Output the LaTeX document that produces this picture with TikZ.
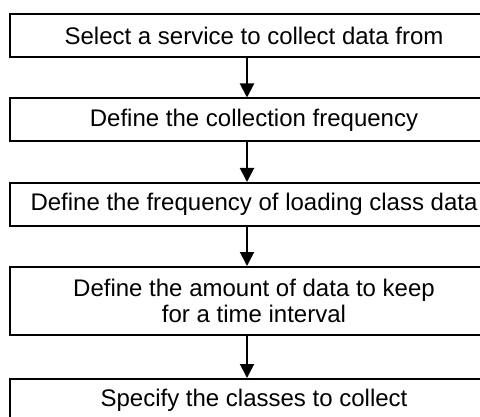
\documentclass[tikz,border=0pt]{standalone}
\usepackage{fontspec}
\setmainfont{Liberation Sans}
\usetikzlibrary{arrows.meta}
\tikzset{
    stepbox/.style={draw, line width=1pt, minimum width=244pt, minimum height=21.5pt,
        inner sep=0pt, align=center, font=\fontsize{12}{13}\selectfont},
    flow/.style={line width=1pt, -{Triangle[width=7pt,length=7pt]}}
}
\begin{document}
\begin{tikzpicture}[x=0.5pt, y=-0.5pt]
    \useasboundingbox (0,0) rectangle (480,416);
    \clip (0,0) rectangle (480,416);
    \node[stepbox] (select) at (254,35.5) {Select a service to collect data from};
    \node[stepbox] (freq) at (254,120) {Define the collection frequency};
    \node[stepbox] (load) at (254,204.5) {Define the frequency of loading class data};
    \node[stepbox, minimum height=34pt] (amount) at (254,301) {Define the amount of data to keep\\for a time interval};
    \node[stepbox] (classes) at (254,400.5) {Specify the classes to collect};
    \draw[flow] ([xshift=-3.5pt]select.south) -- ([xshift=-3.5pt]freq.north);
    \draw[flow] ([xshift=-3.5pt]freq.south) -- ([xshift=-3.5pt]load.north);
    \draw[flow] ([xshift=-3.5pt]load.south) -- ([xshift=-3.5pt]amount.north);
    \draw[flow] ([xshift=-3.5pt]amount.south) -- ([xshift=-3.5pt]classes.north);
\end{tikzpicture}
\end{document}
